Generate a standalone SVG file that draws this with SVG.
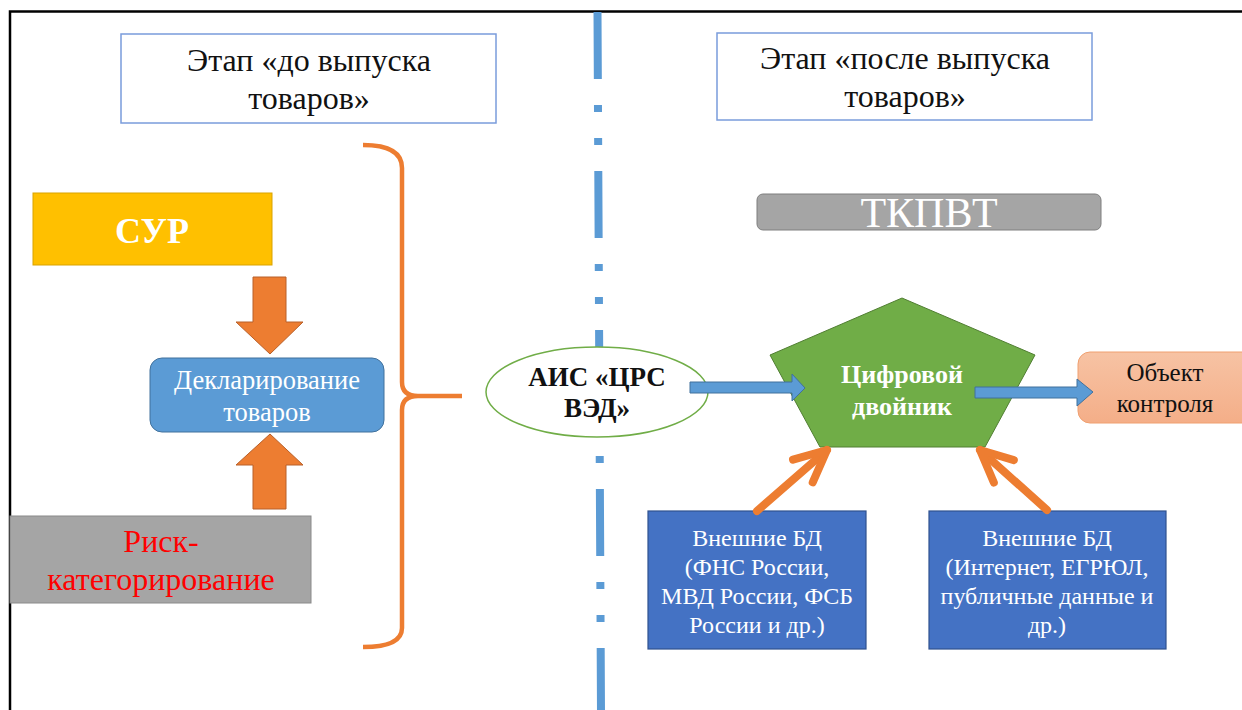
<svg xmlns="http://www.w3.org/2000/svg" width="1242" height="710" viewBox="0 0 1242 710">
<style>
text{font-family:"Liberation Serif","DejaVu Serif","Noto Serif",serif;text-anchor:middle}
.hdr{fill:#fff;stroke:#7A9CDB;stroke-width:1.5}
.hdrt{font-size:32px;fill:#111}
.barrow{fill:#ED7D31;stroke:#B8602A;stroke-width:1}
.blarrow{fill:#5B9BD5;stroke:#41719C;stroke-width:1}
.ext{fill:#4472C4;stroke:#2F528F;stroke-width:1.2}
.extt{font-size:24px;fill:#fff}
.oline{fill:none;stroke:#ED7D31;stroke-width:8;stroke-linecap:round}
</style>
<defs>
<marker id="chev" viewBox="-40 -22 46 44" refX="0" refY="0" markerWidth="46" markerHeight="44" markerUnits="userSpaceOnUse" orient="auto">
<path d="M-32,-15 L0,0 L-32,15" fill="none" stroke="#ED7D31" stroke-width="8" stroke-linecap="round" stroke-linejoin="round"/>
</marker>
<linearGradient id="peach" x1="0" y1="0" x2="0" y2="1">
<stop offset="0" stop-color="#F7C3A4"/><stop offset="1" stop-color="#F4AE88"/>
</linearGradient>
</defs>
<rect width="1242" height="710" fill="#fff"/>
<path d="M10,710 V11.5 H1242" fill="none" stroke="#000" stroke-width="2.5"/>
<line x1="597.5" y1="12" x2="601" y2="712" stroke="#5B9BD5" stroke-width="8" stroke-dasharray="67 26 7 26 7 26"/>

<g id="hdr-left"><rect class="hdr" x="121" y="34" width="375" height="89"/>
<text class="hdrt" x="309" y="71">Этап «до выпуска</text><text class="hdrt" x="309" y="109">товаров»</text></g>
<g id="hdr-right"><rect class="hdr" x="717" y="33" width="375" height="87"/>
<text class="hdrt" x="905" y="69">Этап «после выпуска</text><text class="hdrt" x="905" y="107">товаров»</text></g>

<g id="sur"><rect x="33" y="193" width="239" height="72" fill="#FFC000" stroke="#D9A300" stroke-width="1"/>
<text x="152" y="243" font-size="36" font-weight="bold" fill="#fff">СУР</text></g>
<g id="decl"><rect x="150" y="358" width="234" height="74" rx="12" fill="#5B9BD5" stroke="#41719C" stroke-width="1"/>
<text x="267" y="389" font-size="26.5" fill="#fff">Декларирование</text><text x="267" y="421" font-size="26.5" fill="#fff">товаров</text></g>
<g id="risk"><rect x="10" y="516" width="301" height="87" fill="#A5A5A5" stroke="#8A8A8A" stroke-width="1"/>
<text x="161" y="552" font-size="32" fill="#FF0000">Риск-</text><text x="161" y="590" font-size="32" fill="#FF0000">категорирование</text></g>

<g id="brace"><path d="M363,145 Q402,145 402,168 V382 Q402,396 418,396 H462 M418,396 Q402,396 402,410 V628 Q402,647 363,647" fill="none" stroke="#ED7D31" stroke-width="4.5"/></g>

<g id="tkpvt"><rect x="757" y="194" width="344" height="36" rx="6" fill="#A5A5A5" stroke="#7F7F7F" stroke-width="1"/>
<text x="929" y="227" font-size="42" fill="#fff">ТКПВТ</text></g>

<g id="ais"><ellipse cx="597" cy="392" rx="111" ry="45" fill="#fff" stroke="#70AD47" stroke-width="1.5"/>
<text x="597" y="386" font-size="27" font-weight="bold" fill="#111">АИС «ЦРС</text><text x="597" y="417" font-size="27" font-weight="bold" fill="#111">ВЭД»</text></g>

<g id="twin"><polygon points="902,298 1035,355 985,447 820,447 770,355" fill="#70AD47" stroke="#507E32" stroke-width="1"/>
<text x="902" y="383" font-size="26" font-weight="bold" fill="#fff">Цифровой</text><text x="902" y="415" font-size="26" font-weight="bold" fill="#fff">двойник</text></g>

<g id="obj"><rect x="1078" y="352" width="180" height="71" rx="12" fill="url(#peach)" stroke="#F0A070" stroke-width="1"/>
<text x="1165" y="381" font-size="25" fill="#111">Объект</text><text x="1165" y="412" font-size="25" fill="#111">контроля</text></g>

<g id="ext1"><rect class="ext" x="648" y="511" width="218" height="138"/>
<text class="extt" x="757" y="546">Внешние БД</text><text class="extt" x="757" y="575">(ФНС России,</text><text class="extt" x="757" y="604">МВД России, ФСБ</text><text class="extt" x="757" y="633">России и др.)</text></g>
<g id="ext2"><rect class="ext" x="929" y="511" width="237" height="138"/>
<text class="extt" x="1047" y="546">Внешние БД</text><text class="extt" x="1047" y="575">(Интернет, ЕГРЮЛ,</text><text class="extt" x="1047" y="604">публичные данные и</text><text class="extt" x="1047" y="633">др.)</text></g>

<g id="connectors">
<polygon class="barrow" points="253,277 286,277 286,322 303,322 270,354 236,322 253,322"/>
<polygon class="barrow" points="253,509 286,509 286,465 303,465 270,434 236,465 253,465"/>
<polygon class="blarrow" points="690,382 792,382 792,374 805,388 792,401 792,393 690,393"/>
<polygon class="blarrow" points="975,387 1077,387 1077,379 1093,392 1077,406 1077,398 975,398"/>
<line class="oline" x1="757" y1="511" x2="827" y2="450" marker-end="url(#chev)"/>
<line class="oline" x1="1047" y1="510" x2="980" y2="450" marker-end="url(#chev)"/>
</g>
</svg>
